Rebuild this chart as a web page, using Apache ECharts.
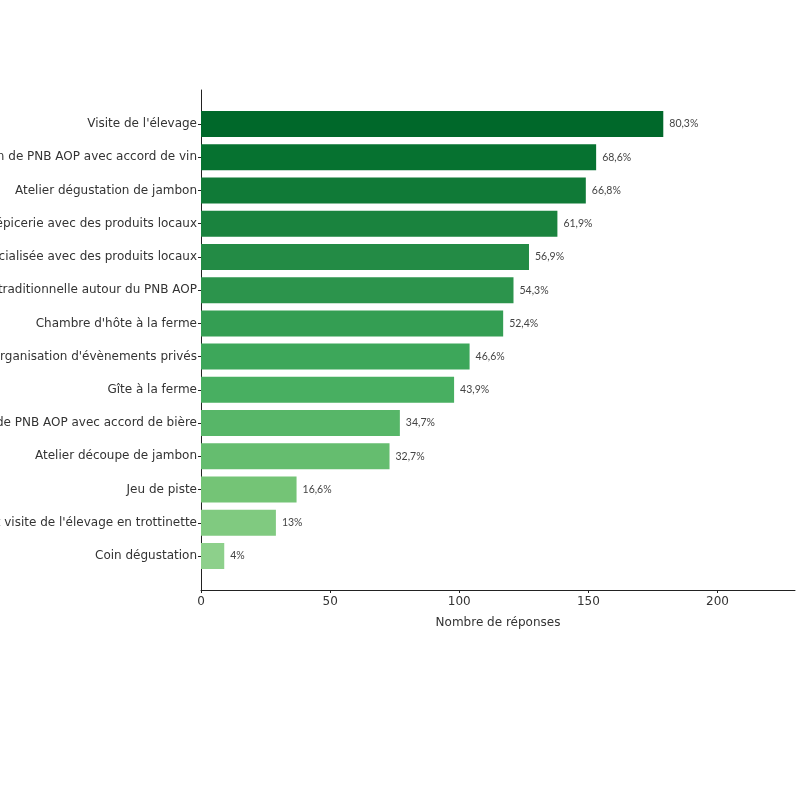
<!DOCTYPE html>
<html>
<head>
<meta charset="utf-8">
<script src="https://cdn.jsdelivr.net/npm/echarts@6/dist/echarts.min.js"></script>
<style>
html,body{margin:0;padding:0;background:#fff;}
#chart{width:800px;height:800px;}
</style>
</head>
<body>
<div id="chart"></div>
<script>
const categories = [
  "Visite de l'élevage",
  "Repas de dégustation de PNB AOP avec accord de vin",
  "Atelier dégustation de jambon",
  "Vente en épicerie avec des produits locaux",
  "Boutique spécialisée avec des produits locaux",
  "Fête traditionnelle autour du PNB AOP",
  "Chambre d'hôte à la ferme",
  "Organisation d'évènements privés",
  "Gîte à la ferme",
  "Repas de dégustation de PNB AOP avec accord de bière",
  "Atelier découpe de jambon",
  "Jeu de piste",
  "Balade et visite de l'élevage en trottinette",
  "Coin dégustation"
];
const counts = [179, 153, 149, 138, 127, 121, 117, 104, 98, 77, 73, 37, 29, 9];
const pctLabels = ["80,3%", "68,6%", "66,8%", "61,9%", "56,9%", "54,3%", "52,4%", "46,6%", "43,9%", "34,7%", "32,7%", "16,6%", "13%", "4%"];
const xTicks = [0, 50, 100, 150, 200];

// Greens colormap stops for styling
const greens = ["#f7fcf5","#e5f5e0","#c7e9c0","#a1d99b","#74c476","#41ab5d","#238b45","#006d2c","#00441b"];
function hex2rgb(h){return [1,3,5].map(i=>parseInt(h.substr(i,2),16));}
function cmap(t){
  const p = t*(greens.length-1); const i = Math.min(Math.floor(p), greens.length-2); const f = p-i;
  const a = hex2rgb(greens[i]), b = hex2rgb(greens[i+1]);
  return 'rgb(' + a.map((v,k)=>Math.round(v+(b[k]-v)*f)).join(',') + ')';
}
const n = categories.length;
const colors = categories.map((c,i)=>cmap(0.89 - (0.89-0.43)*i/(n-1)));

const chart = echarts.init(document.getElementById('chart'), null, {renderer:'canvas'});
const XMAX = 230;
chart.setOption({
  backgroundColor:'#ffffff',
  animation:false,
  grid:[
    {left:201, right:5, top:107.4, height:465.2, containLabel:false, outerBoundsMode:'none'},
    {left:201, right:5, top:90, height:500, containLabel:false, outerBoundsMode:'none'}
  ],
  xAxis:[
    {gridIndex:0, type:'value', min:0, max:XMAX, show:false},
    {gridIndex:1, type:'value', min:0, max:XMAX, interval:50,
     axisLine:{show:true, lineStyle:{color:'#222', width:1}},
     axisTick:{show:true, length:3, lineStyle:{color:'#222'}},
     axisLabel:{show:true, showMaxLabel:false, fontFamily:'DejaVu Sans', fontSize:12, color:'#333', margin:6,
       formatter:v=> xTicks.indexOf(v)>=0 ? String(v) : ''},
     splitLine:{show:false},
     name:'Nombre de réponses', nameLocation:'middle', nameGap:27,
     nameTextStyle:{fontFamily:'DejaVu Sans', fontSize:12, color:'#333'}}
  ],
  yAxis:[
    {gridIndex:0, type:'category', data:categories, inverse:true,
     axisLine:{show:false},
     axisTick:{show:true, length:3, alignWithLabel:true, lineStyle:{color:'#222'}},
     axisLabel:{fontFamily:'DejaVu Sans', fontSize:12, color:'#333', margin:4}},
    {gridIndex:1, type:'value', min:0, max:1,
     axisLine:{show:true, lineStyle:{color:'#222', width:1}},
     axisTick:{show:false}, axisLabel:{show:false}, splitLine:{show:false}}
  ],
  series:[{
    type:'bar', xAxisIndex:0, yAxisIndex:0,
    data: counts.map((v,i)=>({value:v, itemStyle:{color:colors[i]}})),
    barWidth:26,
    label:{show:true, position:'right', distance:6,
      formatter:p=>pctLabels[p.dataIndex],
      fontFamily:'Lato', fontSize:10.5, color:'#444'}
  }]
});
</script>
</body>
</html>
